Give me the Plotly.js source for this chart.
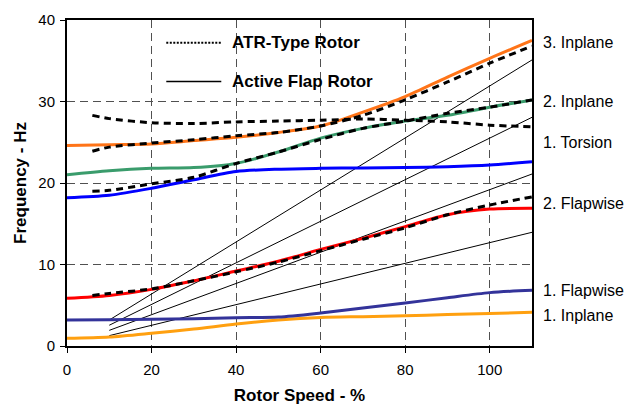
<!DOCTYPE html>
<html>
<head>
<meta charset="utf-8">
<script src="https://cdn.plot.ly/plotly-3.0.1.min.js"></script>
<style>html,body{margin:0;padding:0;background:#fff;}#chart{width:639px;height:405px;}</style>
</head>
<body>
<div id="chart"></div>
<script>
// Rotor speed (%) sample positions
const speed = [0, 10, 20, 30, 40, 50, 60, 70, 80, 90, 100, 110];

// Active Flap Rotor (solid coloured curves)
const inplane3Active   = [24.6, 24.7, 24.8, 25.2, 25.6, 26.2, 27.0, 28.7, 30.6, 33.0, 35.3, 37.5];
const inplane2Active   = [21.0, 21.5, 21.8, 21.9, 22.4, 23.8, 25.5, 26.7, 27.6, 28.3, 29.3, 30.2];
const torsion1Active   = [18.2, 18.5, 19.35, 20.4, 21.4, 21.7, 21.8, 21.85, 21.9, 22.0, 22.2, 22.6];
const flap2Active      = [5.85, 6.2, 6.95, 8.0, 9.2, 10.4, 11.85, 13.2, 14.65, 16.1, 16.8, 16.9];
const flap1Active      = [3.19, 3.22, 3.27, 3.35, 3.47, 3.55, 4.05, 4.67, 5.27, 5.93, 6.55, 6.83];
const inplane1Active   = [0.94, 1.1, 1.56, 2.08, 2.7, 3.19, 3.5, 3.6, 3.7, 3.85, 4.0, 4.13];

// ATR-Type Rotor (dashed black curves)
const speedATR = [6, 10, 20, 30, 40, 50, 60, 70, 80, 90, 100, 110];
const torsion1ATR = [28.3, 27.9, 27.4, 27.3, 27.5, 27.6, 27.7, 27.85, 27.7, 27.5, 27.1, 26.9];
const inplane3ATR = [23.9, 24.4, 24.9, 25.3, 25.8, 26.2, 27.0, 28.3, 30.2, 32.4, 34.7, 36.8];
const inplane2ATR = [19.0, 19.1, 19.9, 20.7, 22.4, 23.8, 25.35, 26.7, 27.6, 28.55, 29.3, 30.2];
const flap2ATR    = [6.2, 6.45, 7.0, 8.0, 9.1, 10.3, 11.7, 13.1, 14.5, 16.1, 17.3, 18.3];

// Per-rev excitation lines (thin black)
const harmSpeed = [10, 110];
const harm2 = [1.27, 13.95];
const harm3 = [1.92, 21.1];
const harm4 = [2.55, 28.06];
const harm5 = [3.19, 35.1];

// Right-hand mode labels
const modeLabels = ["3. Inplane", "2. Inplane", "1. Torsion", "2. Flapwise", "1. Flapwise", "1. Inplane"];
const modeLabelY = [37.3, 30.06, 25.0, 17.5, 6.87, 3.8];

const legendLabels = ["ATR-Type Rotor", "Active Flap Rotor"];

const xTicks = [0, 20, 40, 60, 80, 100];
const yTicks = [0, 10, 20, 30, 40];

const FONT = "Liberation Sans, Arial, sans-serif";
const traces = [];

[harm2, harm3, harm4, harm5].forEach(h => {
  traces.push({x: harmSpeed, y: h, mode: "lines", line: {color: "#000", width: 1}, hoverinfo: "skip"});
});

const active = [
  [inplane1Active, "#FFA010"],
  [flap1Active, "#33339A"],
  [flap2Active, "#FF0000"],
  [torsion1Active, "#0000FF"],
  [inplane2Active, "#3A9C6C"],
  [inplane3Active, "#FF7418"]
];
active.forEach(([y, c]) => {
  traces.push({x: speed, y: y, mode: "lines", line: {color: c, width: 3, shape: "spline", smoothing: 0.8}});
});

[torsion1ATR, inplane3ATR, inplane2ATR, flap2ATR].forEach(y => {
  traces.push({x: speedATR, y: y, mode: "lines", line: {color: "#000", width: 3, dash: "7px,5px", shape: "spline", smoothing: 0.8}});
});

const annotations = modeLabels.map((t, i) => ({
  xref: "paper", yref: "y", x: 1.02, y: modeLabelY[i], xanchor: "left", yanchor: "middle",
  text: t, showarrow: false, font: {family: FONT, size: 16, color: "#000"}
}));
annotations.push({xref: "paper", yref: "paper", x: 0.3512, y: 0.930, xanchor: "left", yanchor: "middle",
  text: "<b>" + legendLabels[0] + "</b>", showarrow: false, font: {family: FONT, size: 17, color: "#000"}});
annotations.push({xref: "paper", yref: "paper", x: 0.3512, y: 0.811, xanchor: "left", yanchor: "middle",
  text: "<b>" + legendLabels[1] + "</b>", showarrow: false, font: {family: FONT, size: 17, color: "#000"}});

const shapes = [
  {type: "line", xref: "paper", yref: "paper", x0: 0.2135, x1: 0.3318, y0: 0.930, y1: 0.930, line: {color: "#000", width: 2, dash: "2px,1.5px"}},
  {type: "line", xref: "paper", yref: "paper", x0: 0.2135, x1: 0.3318, y0: 0.811, y1: 0.811, line: {color: "#000", width: 1.5}}
];

const axisCommon = {
  showline: true, linecolor: "#000", linewidth: 2, mirror: true,
  ticks: "outside", ticklen: 5, tickwidth: 1, tickcolor: "#000",
  showgrid: true, gridcolor: "#505050", gridwidth: 1, griddash: "8px,5px",
  zeroline: false, tickfont: {family: FONT, size: 15, color: "#000"}
};

const layout = {
  width: 639, height: 405,
  margin: {l: 67, r: 107, t: 20, b: 59},
  showlegend: false,
  paper_bgcolor: "#fff", plot_bgcolor: "#fff",
  xaxis: Object.assign({}, axisCommon, {
    range: [0, 110], tickvals: xTicks, ticklabelstandoff: 4,
    title: {text: "<b>Rotor Speed - %</b>", font: {family: FONT, size: 17, color: "#000"}, standoff: 15}
  }),
  yaxis: Object.assign({}, axisCommon, {
    range: [0, 40], tickvals: yTicks, ticklabelstandoff: 2,
    title: {text: "<b>Frequency - Hz</b>", font: {family: FONT, size: 17, color: "#000"}, standoff: 7}
  }),
  annotations: annotations,
  shapes: shapes
};

Plotly.newPlot("chart", traces, layout, {displayModeBar: false, staticPlot: true});
</script>
</body>
</html>
